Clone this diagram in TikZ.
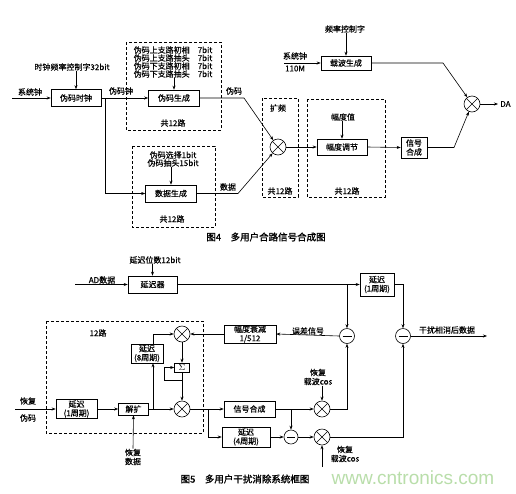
\documentclass[tikz,border=0pt]{standalone}
\usepackage{fontspec}
\setmainfont[FakeBold=0.4]{Noto Sans CJK SC}
\newfontfamily\captfont[FakeBold=1.5]{Noto Sans CJK SC}
\newfontfamily\wmfont{Liberation Sans}
\usetikzlibrary{arrows.meta,calc}
\newcommand{\lblfont}{\fontsize{8}{9}\selectfont}
\newcommand{\parfont}{\fontsize{8}{8}\selectfont}
\definecolor{wmgreen}{RGB}{185,222,170}
\begin{document}
\begin{tikzpicture}[x=1pt,y=-1pt,line width=0.6pt,
  box/.style={draw, inner sep=0pt, align=center, font=\lblfont},
  lbl/.style={inner sep=0pt, align=center, font=\lblfont},
  capt/.style={inner sep=0pt, font=\captfont\fontsize{9.5}{10}\selectfont},
  arr/.style={-{Stealth[length=4pt,width=3pt]}},
  dbox/.style={draw, dash pattern=on 3pt off 2pt},
  mix/.style={draw, circle, minimum size=16pt, inner sep=0pt,
    path picture={\draw (path picture bounding box.north west) -- (path picture bounding box.south east)
      (path picture bounding box.north east) -- (path picture bounding box.south west);}},
  minus/.style={draw, circle, minimum size=15pt, inner sep=0pt,
    path picture={\draw ([xshift=3pt]path picture bounding box.west) -- ([xshift=-3pt]path picture bounding box.east);}}
]
\fill[white] (0,0) rectangle (516,493);
\useasboundingbox (0,0) rectangle (516,493);

% ===== Figure 4 =====
\draw[dbox] (126,42) rectangle (221,130);
\draw[dbox] (132,146) rectangle (215,227);
\draw[dbox] (262,98) rectangle (298,197);
\draw[dbox] (307,99) rectangle (385,197);

\node[box,minimum width=50pt,minimum height=17pt] (wzclk) at (76,98) {伪码时钟};
\node[box,minimum width=51pt,minimum height=16pt] (wzgen) at (174,98) {伪码生成};
\node[box,minimum width=51pt,minimum height=17pt] (sjgen) at (171,193.5) {数据生成};
\node[mix] (mixA) at (278,147) {};
\node[box,minimum width=50pt,minimum height=16pt] (fdtj) at (342,147) {幅度调节};
\node[box,minimum width=26pt,minimum height=21pt] (xhhc) at (414,147.5) {信号\\合成};
\node[box,minimum width=50pt,minimum height=14pt] (zbgen) at (346,63) {载波生成};
\node[mix] (mixB) at (472,104) {};

\node[lbl] (tclk) at (72,67) {时钟频率控制字32bit};
\node[lbl] at (30,92) {系统钟};
\coordinate (inA) at (12,98);
\node[lbl] at (121,91) {伪码钟};
\node[lbl,align=left,font=\parfont] (wzpar) at (173,62) {伪码上支路初相\hspace{8pt}7bit\\伪码上支路抽头\hspace{8pt}7bit\\伪码下支路初相\hspace{8pt}7bit\\伪码下支路抽头\hspace{8pt}7bit};
\node[lbl] at (173,123) {共12路};
\coordinate (cA) at (244,98);
\node[lbl] at (234,91) {伪码};
\coordinate (brA) at (105,98);
\node[lbl,font=\parfont] (sjpar) at (173,159) {伪码选择1bit\\伪码抽头15bit};
\node[lbl] at (172,219) {共12路};
\coordinate (cB) at (238,193.5);
\node[lbl] at (228,187) {数据};
\node[lbl] at (278,108) {扩频};
\node[lbl] at (280,191) {共12路};
\node[lbl] (fdz) at (343,117) {幅度值};
\node[lbl] at (347,191) {共12路};
\coordinate (cC) at (454,147.5);
\node[lbl] (pkz) at (345,29) {频率控制字};
\node[lbl] at (295,56) {系统钟};
\node[lbl] at (295,68.5) {110M};
\coordinate (inB) at (284,63);
\coordinate (cD) at (443,63);
\coordinate (outDA) at (498,104);
\node[lbl,anchor=west] at (500,104) {DA};

\draw[arr] (inA) -- (wzclk.west);
\draw[arr] (tclk.south -| wzclk.north) -- (wzclk.north);
\draw[arr] (wzclk.east) -- (wzgen.west);
\draw[arr] (wzpar.south -| wzgen.north) -- (wzgen.north);
\draw[arr] (brA) |- (sjgen.west);
\draw[arr] (sjpar.south -| sjgen.north) -- (sjgen.north);
\draw[arr] (wzgen.east) -- (cA) -- (mixA);
\draw[arr] (sjgen.east) -- (cB) -- (mixA);
\draw[arr] (mixA.east) -- (fdtj.west);
\draw[arr] (fdz.south -| fdtj.north) -- (fdtj.north);
\draw[arr] (fdtj.east) -- (xhhc.west);
\draw[arr] (xhhc.east) -- (cC) -- (mixB);
\draw[arr] (pkz.south -| zbgen.north) -- (zbgen.north);
\draw[arr] (inB) -- (zbgen.west);
\draw[arr] (zbgen.east) -- (cD) -- (mixB);
\draw[arr] (mixB.east) -- (outDA);

\node[capt] at (266,237) {图4\quad 多用户合路信号合成图};

% ===== Figure 5 =====
\draw[dbox] (46,321) rectangle (203,433);
\node[lbl] (ycws) at (155,260) {延迟位数12bit};
\node[box,minimum width=49pt,minimum height=17pt] (yc) at (152.5,284.5) {延迟器};
\node[lbl] at (102,280) {AD数据};
\coordinate (inC) at (75,284.5);
\node[box,minimum width=34pt,minimum height=23pt] (yc1) at (377,284.5) {延迟\\(1周期)};
\coordinate (bC) at (347,284.5);
\node[minus] (mA) at (347,336) {};
\node[minus] (mB) at (403,336) {};
\coordinate (outC) at (487,336);
\node[lbl] at (447,330) {干扰相消后数据};
\node[lbl] at (308,331) {误差信号};
\node[box,minimum width=52pt,minimum height=18pt] (fdsj) at (250,334) {幅度衰减\\1/512};
\node[mix] (mC) at (182,334) {};
\node[lbl] at (98,333) {12路};
\node[box,minimum width=32pt,minimum height=19pt] (yc8) at (147,353.5) {延迟\\(8周期)};
\node[box,minimum width=15pt,minimum height=9pt,font=\fontsize{9}{9}\selectfont] (sig) at (182,367.5) {$\Sigma$};
\node[mix] (mD) at (182,409) {};
\node[box,minimum width=30pt,minimum height=12pt] (jk) at (133.5,409) {解扩};
\node[lbl] (hfsj) at (133,457) {恢复\\数据};
\node[box,minimum width=41pt,minimum height=19pt] (yc1b) at (76.5,409) {延迟\\(1周期)};
\coordinate (inD) at (15,409);
\node[lbl] at (28,401) {恢复};
\node[lbl] at (28,418) {伪码};
\node[box,minimum width=51pt,minimum height=16pt] (hc) at (249.5,409) {信号合成};
\node[box,minimum width=48pt,minimum height=20pt] (yc4) at (246,437) {延迟\\(4周期)};
\node[mix] (mE) at (322,409) {};
\node[minus,minimum size=14pt] (mF) at (291,437) {};
\node[mix] (mG) at (322,437) {};
\node[lbl] (hfzb1) at (318,377) {恢复\\载波cos};
\node[lbl] (hfzb2) at (345,454) {恢复\\载波cos};
\coordinate (inE) at (322,467);
\coordinate (lp) at (182,380);
\coordinate (lp2) at (164,380);
\coordinate (bD) at (153,409);
\coordinate (bE) at (208,409);
\coordinate (bF) at (291,409);

\draw[arr] (ycws.south -| yc.north) -- (yc.north);
\draw[arr] (inC) -- (yc.west);
\draw[arr] (yc.east) -- (yc1.west);
\draw[arr] (bC) -- (mA.north);
\draw[arr] (yc1.east) -| (mB.north);
\draw[arr] (mB.east) -- (outC);
\draw[arr] (mA.west) -- (fdsj.east);
\draw[arr] (fdsj.west) -- (mC.east);
\draw[arr] ([xshift=6pt]yc8.north) |- (mC.west);
\draw[arr] (mC.south) -- (sig.north);
\draw[arr] (sig.south) -- (mD.north);
\draw[arr] (lp) -- (lp2) |- (sig.west);
\draw[arr] (jk.east) -- (mD.west);
\draw[arr] (bD) -- ([xshift=6pt]yc8.south);
\draw[arr] (hfsj.north) -- (jk.south);
\draw[arr] (inD) -- (yc1b.west);
\draw[arr] (yc1b.east) -- (jk.west);
\draw[arr] (mD.east) -- (hc.west);
\draw[arr] (bE) |- (yc4.west);
\draw[arr] (hc.east) -- (mE.west);
\draw[arr] (bF) -- (mF.north);
\draw[arr] (yc4.east) -- (mF.west);
\draw[arr] (mF.east) -- (mG.west);
\draw[arr] (hfzb1.south -| mE.north) -- (mE.north);
\draw[arr] (mE.east) -| (mA.south);
\draw[arr] (inE) -- (mG.south);
\draw[arr] (mG.east) -| (mB.south);

\node[capt] at (245,479) {图5\quad 多用户干扰消除系统框图};
\node[inner sep=0pt,font=\wmfont\fontsize{19}{19}\selectfont,text=wmgreen] at (413,478) {www.cntronics.com};
\end{tikzpicture}
\end{document}
